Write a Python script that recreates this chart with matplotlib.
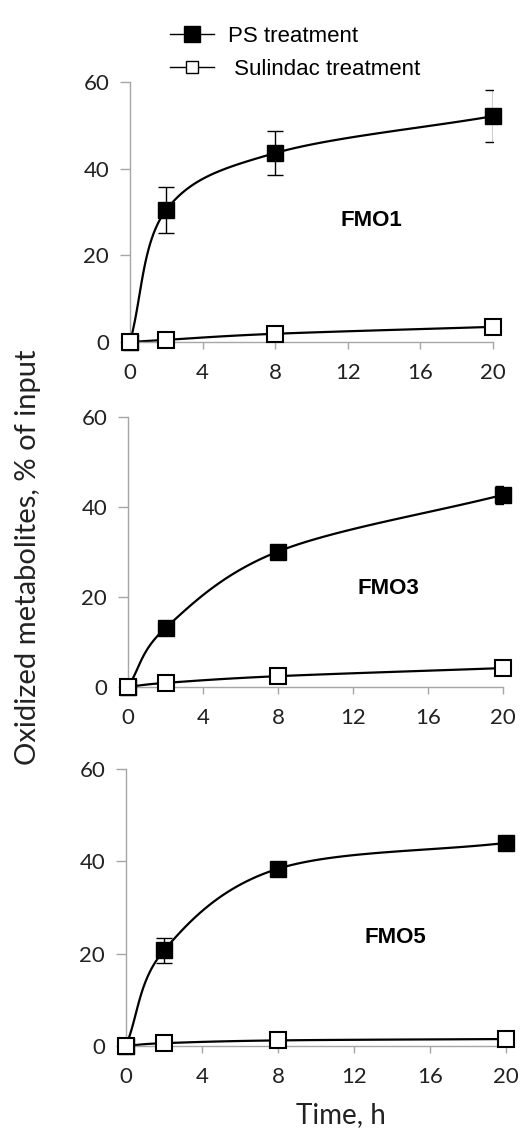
'''
Oxidized metabolites formed by FMO1, FMO3 and FMO5 over time
'''

import numpy as np
import matplotlib.pyplot as plt

times = [0, 2, 8, 20]
panels = ['FMO1', 'FMO3', 'FMO5']

ps_values = [[0, 30.5, 43.6, 52.1],
             [0, 13.1, 30.1, 42.7],
             [0, 20.7, 38.4, 44.0]]
ps_errors = [[0, 5.3, 5.0, 6.0],
             [0, 0, 0, 2.0],
             [0, 2.7, 0, 0]]
sul_values = [[0, 0.5, 1.9, 3.5],
              [0, 0.9, 2.4, 4.2],
              [0, 0.6, 1.2, 1.5]]
sul_errors = [[0, 0, 1.0, 1.0],
              [0, 0, 0, 0],
              [0, 0, 0, 0]]
label_pos = [(13.3, 28), (13.9, 21.8), (14.2, 23.6)]

axis_grey = '#a6a6a6'
tick_font = 'Lato'


#Smooth curve through the points (like the Excel smoothed line)
def smooth(x, y, n=40):
	x = np.asarray(x, float)
	y = np.asarray(y, float)
	px = np.concatenate([[2 * x[0] - x[1]], x, [2 * x[-1] - x[-2]]])
	py = np.concatenate([[2 * y[0] - y[1]], y, [2 * y[-1] - y[-2]]])
	sx, sy = [], []
	for i in range(1, len(px) - 2):
		t = np.linspace(0, 1, n)
		for p, out in ((px, sx), (py, sy)):
			p0, p1, p2, p3 = p[i - 1], p[i], p[i + 1], p[i + 2]
			out.extend(0.5 * (2 * p1 + (-p0 + p2) * t
				+ (2 * p0 - 5 * p1 + 4 * p2 - p3) * t ** 2
				+ (-p0 + 3 * p1 - 3 * p2 + p3) * t ** 3))
	return sx, sy


def draw_panel(ax, k):
	# scale x so the spline works in screen-like units
	scale = 3.0
	xs, ys = smooth(np.array(times) / scale, ps_values[k])
	ax.plot(np.array(xs) * scale, ys, color='black', lw=1.6, clip_on=False)
	xs, ys = smooth(np.array(times) / scale, sul_values[k])
	ax.plot(np.array(xs) * scale, ys, color='black', lw=1.6, clip_on=False)

	ax.errorbar(times, ps_values[k], yerr=ps_errors[k], fmt='none',
		ecolor='black', elinewidth=1, capsize=6, capthick=1, zorder=3)
	ax.errorbar(times, sul_values[k], yerr=sul_errors[k], fmt='none',
		ecolor='black', elinewidth=1, capsize=5, capthick=1, zorder=3)
	ax.plot(times, ps_values[k], 's', color='black', ms=12, zorder=4, clip_on=False)
	ax.plot(times, sul_values[k], 's', mfc='white', mec='black', mew=1.5,
		ms=11, zorder=4, clip_on=False)

	ax.set_xlim(0, 20)
	ax.set_ylim(0, 60)
	ax.set_xticks([0, 4, 8, 12, 16, 20])
	ax.set_yticks([0, 20, 40, 60])
	for side in ['top', 'right']:
		ax.spines[side].set_visible(False)
	for side in ['left', 'bottom']:
		ax.spines[side].set_color(axis_grey)
		ax.spines[side].set_linewidth(1)
	ax.tick_params(colors=axis_grey, width=1, labelcolor='#222222', labelsize=16)
	ax.tick_params(axis='x', length=5, pad=10)
	ax.tick_params(axis='y', length=7, pad=8)
	for lab in ax.get_xticklabels() + ax.get_yticklabels():
		lab.set_fontfamily(tick_font)
	ax.text(label_pos[k][0], label_pos[k][1], panels[k], ha='center', va='center',
		fontsize=16, fontweight='bold', family='Liberation Sans')


fig = plt.figure(figsize=(5.21, 11.31), dpi=100)
boxes = [[0.2495, 0.6976, 0.6965, 0.2299],
         [0.2457, 0.3926, 0.7198, 0.2387],
         [0.2418, 0.0752, 0.7294, 0.2448]]
axes = []
for k in range(3):
	ax = fig.add_axes(boxes[k])
	draw_panel(ax, k)
	axes.append(ax)

# legend
h1, = axes[0].plot([], [], '-s', color='black', ms=11, lw=1)
h2, = axes[0].plot([], [], '-s', color='black', mfc='white', mew=1, ms=8, lw=1)
fig.legend([h1, h2], ['PS treatment', ' Sulindac treatment'],
	loc='upper left', bbox_to_anchor=(0.288, 0.995), frameon=False,
	handlelength=2.0, handletextpad=0.6, labelspacing=0.55,
	prop={'family': 'Liberation Sans', 'size': 16})

fig.text(0.054, 0.5075, 'Oxidized metabolites, % of input', rotation=90,
	ha='center', va='center', fontsize=21, family=tick_font, color='#222222')
fig.text(0.655, 0.0145, 'Time, h', ha='center', va='center',
	fontsize=20, family=tick_font, color='#222222')

fig.savefig('out.png', dpi=100)
